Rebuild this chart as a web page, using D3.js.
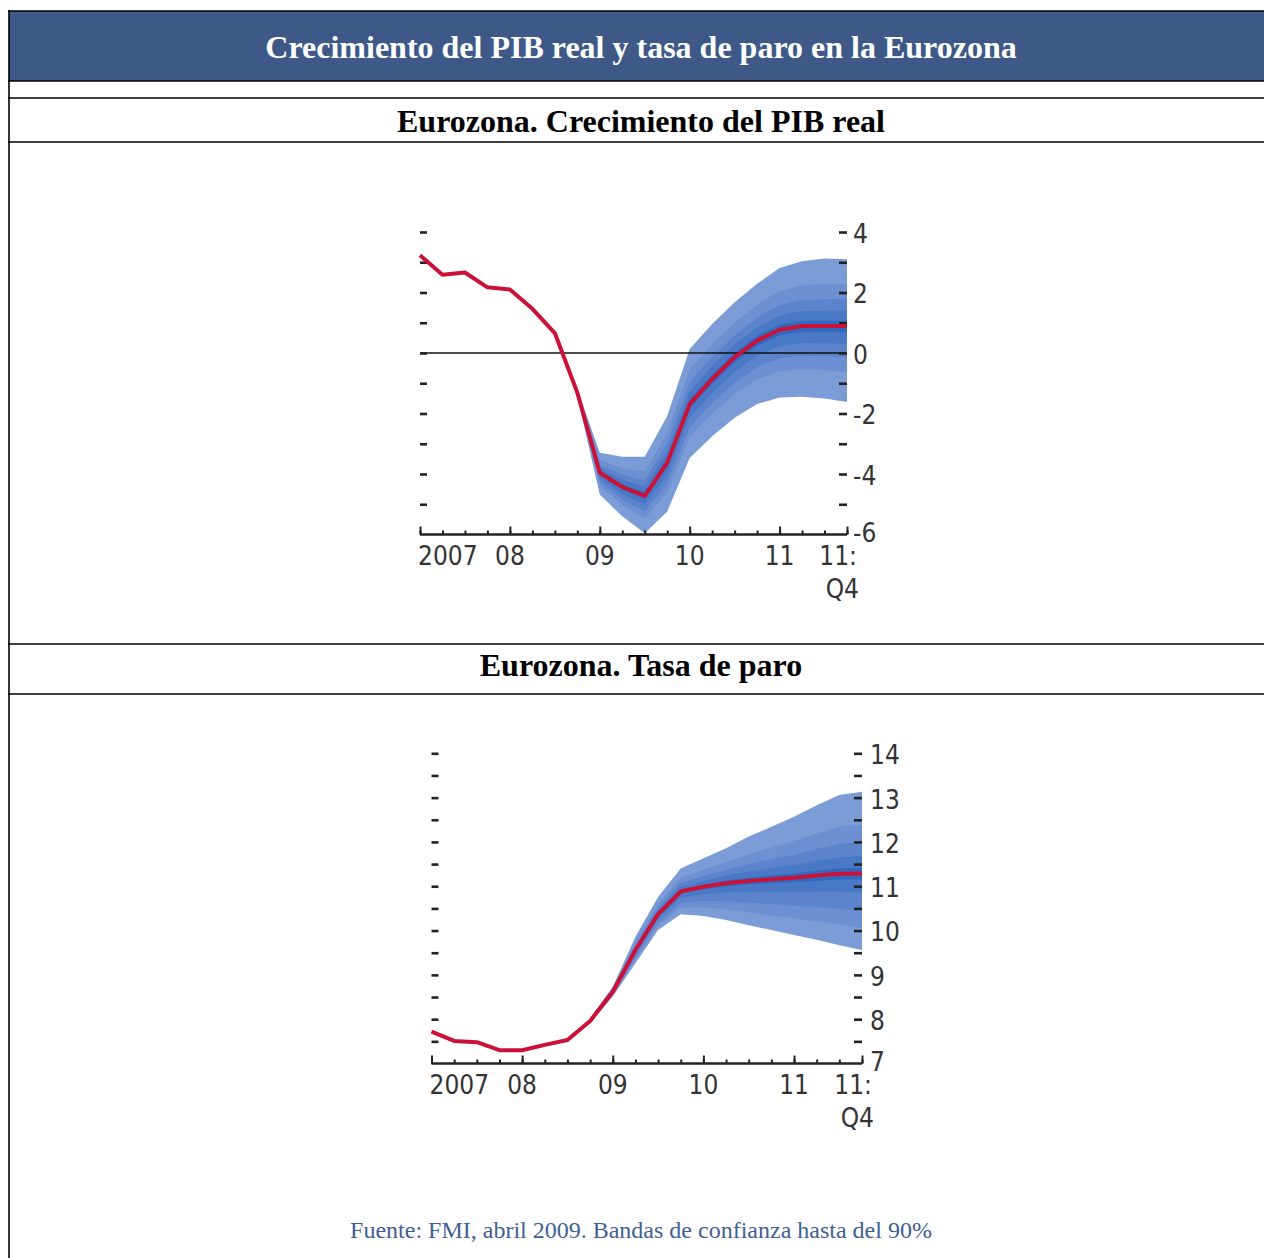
<!DOCTYPE html>
<html>
<head>
<meta charset="utf-8">
<script src="https://cdn.jsdelivr.net/npm/d3@7"></script>
<style>
  body { margin: 0; background: #fff; }
  svg { display: block; }
</style>
</head>
<body>
<svg id="page" width="1264" height="1258"></svg>
<script>
// quarters on the x axis, 2007Q1 .. 2011Q4
var quarters = ["2007Q1","2007Q2","2007Q3","2007Q4","2008Q1","2008Q2","2008Q3","2008Q4",
                "2009Q1","2009Q2","2009Q3","2009Q4","2010Q1","2010Q2","2010Q3","2010Q4",
                "2011Q1","2011Q2","2011Q3","2011Q4"];
var fanQuarters = quarters.slice(7);   // fan starts at 2008Q4
var yearTicks = ["2007Q1","2008Q1","2009Q1","2010Q1","2011Q1","2011Q4"];
var yearLabels = ["2007","08","09","10","11","11:"];

// ---- PIB real ----
var gdpLine = [3.23, 2.59, 2.66, 2.17, 2.10, 1.46, 0.66, -1.31, -3.96, -4.43, -4.72, -3.63,
               -1.69, -0.86, -0.14, 0.41, 0.77, 0.89, 0.89, 0.89];
var gdpUp1 = [-1.20, -3.30, -3.43, -3.43, -2.08, 0.13, 0.96, 1.68, 2.29, 2.81, 3.03, 3.12, 3.10];
var gdpUp2 = [-1.24, -3.54, -3.80, -3.91, -2.65, -0.54, 0.29, 1.01, 1.59, 2.06, 2.24, 2.29, 2.29];
var gdpUp3 = [-1.27, -3.70, -4.03, -4.20, -3.01, -0.96, -0.13, 0.59, 1.16, 1.59, 1.75, 1.78, 1.79];
var gdpUp4 = [-1.29, -3.81, -4.20, -4.42, -3.27, -1.27, -0.44, 0.28, 0.84, 1.24, 1.38, 1.40, 1.41];
var gdpUp5 = [-1.30, -3.91, -4.35, -4.62, -3.51, -1.54, -0.71, 0.01, 0.56, 0.93, 1.06, 1.07, 1.07];
var gdpLo5 = [-1.32, -4.02, -4.51, -4.82, -3.76, -1.83, -1.01, -0.30, 0.24, 0.59, 0.70, 0.70, 0.69];
var gdpLo4 = [-1.34, -4.13, -4.66, -5.02, -4.02, -2.12, -1.31, -0.62, -0.09, 0.23, 0.33, 0.32, 0.29];
var gdpLo3 = [-1.36, -4.26, -4.84, -5.24, -4.31, -2.44, -1.65, -0.98, -0.47, -0.17, -0.09, -0.11, -0.16];
var gdpLo2 = [-1.40, -4.40, -5.02, -5.48, -4.61, -2.78, -2.01, -1.36, -0.87, -0.60, -0.54, -0.57, -0.64];
var gdpLo1 = [-1.45, -4.68, -5.40, -5.96, -5.24, -3.47, -2.75, -2.14, -1.69, -1.47, -1.45, -1.50, -1.62];
var gdpTicks = [4, 3, 2, 1, 0, -1, -2, -3, -4, -5];
var gdpLabels = [4, 2, 0, -2, -4, -6];

// ---- Tasa de paro ----
var unempLine = [7.72, 7.51, 7.48, 7.30, 7.30, 7.42, 7.53, 7.96, 8.62, 9.56, 10.37, 10.88,
                 10.99, 11.07, 11.12, 11.16, 11.19, 11.24, 11.28, 11.29];
var unUp1 = [8.02, 8.73, 9.86, 10.76, 11.40, 11.63, 11.86, 12.12, 12.34, 12.57, 12.83, 13.06, 13.13];
var unUp2 = [8.00, 8.69, 9.74, 10.60, 11.19, 11.37, 11.54, 11.72, 11.87, 12.02, 12.19, 12.35, 12.39];
var unUp3 = [7.99, 8.66, 9.67, 10.52, 11.08, 11.23, 11.37, 11.50, 11.61, 11.71, 11.84, 11.96, 11.99];
var unUp4 = [7.98, 8.64, 9.62, 10.45, 10.99, 11.12, 11.24, 11.33, 11.41, 11.48, 11.57, 11.65, 11.68];
var unUp5 = [7.97, 8.63, 9.58, 10.40, 10.92, 11.03, 11.13, 11.19, 11.24, 11.29, 11.35, 11.40, 11.42];
var unLo5 = [7.95, 8.61, 9.54, 10.34, 10.84, 10.94, 11.00, 11.04, 11.07, 11.09, 11.12, 11.15, 11.15];
var unLo4 = [7.94, 8.59, 9.48, 10.28, 10.75, 10.82, 10.86, 10.87, 10.87, 10.87, 10.88, 10.88, 10.86];
var unLo3 = [7.93, 8.57, 9.41, 10.19, 10.63, 10.67, 10.66, 10.63, 10.60, 10.56, 10.53, 10.49, 10.44];
var unLo2 = [7.92, 8.54, 9.35, 10.11, 10.52, 10.52, 10.48, 10.41, 10.34, 10.27, 10.21, 10.14, 10.06];
var unLo1 = [7.90, 8.51, 9.26, 10.01, 10.37, 10.33, 10.24, 10.12, 10.01, 9.90, 9.79, 9.67, 9.56];
var unTicks = [14, 13.5, 13, 12.5, 12, 11.5, 11, 10.5, 10, 9.5, 9, 8.5, 8, 7.5];
var unLabels = [14, 13, 12, 11, 10, 9, 8, 7];

var fanColors = ["#7c9cd7", "#6c90d1", "#5b84cc", "#4878c6", "#3169bf"];
var lineColor = "#cc1137";
var tickFont = "'DejaVu Sans Condensed', 'Liberation Sans Narrow', sans-serif";
var serif = "'Liberation Serif', 'Times New Roman', serif";

var svg = d3.select("#page");

// ---- table frame ----
svg.append("rect").attr("x", 9).attr("y", 11).attr("width", 1255).attr("height", 70)
  .style("fill", "#3e5987");

[11, 81, 98, 142, 644, 694].forEach(function(y) {
  svg.append("line").attr("x1", 8).attr("x2", 1264).attr("y1", y).attr("y2", y)
    .style("stroke", "#000").style("stroke-width", 1.6);
});
svg.append("line").attr("x1", 9).attr("x2", 9).attr("y1", 10).attr("y2", 1258)
  .style("stroke", "#000").style("stroke-width", 1.6);

svg.append("text").attr("x", 641).attr("y", 58).attr("text-anchor", "middle")
  .style("font-family", serif).style("font-weight", "bold").style("font-size", "32px")
  .style("fill", "#fff")
  .text("Crecimiento del PIB real y tasa de paro en la Eurozona");

svg.append("text").attr("x", 641).attr("y", 132).attr("text-anchor", "middle")
  .style("font-family", serif).style("font-weight", "bold").style("font-size", "32px")
  .style("fill", "#000")
  .text("Eurozona. Crecimiento del PIB real");

svg.append("text").attr("x", 641).attr("y", 676).attr("text-anchor", "middle")
  .style("font-family", serif).style("font-weight", "bold").style("font-size", "32px")
  .style("fill", "#000")
  .text("Eurozona. Tasa de paro");

svg.append("text").attr("x", 641).attr("y", 1238).attr("text-anchor", "middle")
  .style("font-family", serif).style("font-size", "24px")
  .style("fill", "#3f5f94")
  .text("Fuente: FMI, abril 2009. Bandas de confianza hasta del 90%");

// ---- charts ----
drawFanChart({
  x0: 420, x1: 847, yDomain: [-6, 4], yRange: [534.5, 232],
  line: gdpLine,
  ups: [gdpUp1, gdpUp2, gdpUp3, gdpUp4, gdpUp5],
  los: [gdpLo1, gdpLo2, gdpLo3, gdpLo4, gdpLo5],
  ticks: gdpTicks, labels: gdpLabels, zeroLine: true, labelPad: 6
});

drawFanChart({
  x0: 431.5, x1: 862, yDomain: [7, 14], yRange: [1063.5, 753.3],
  line: unempLine,
  ups: [unUp1, unUp2, unUp3, unUp4, unUp5],
  los: [unLo1, unLo2, unLo3, unLo4, unLo5],
  ticks: unTicks, labels: unLabels, zeroLine: false, labelPad: 8
});

function drawFanChart(c) {
  var g = svg.append("g");

  var x = d3.scalePoint().domain(quarters).range([c.x0, c.x1]);
  var y = d3.scaleLinear().domain(c.yDomain).range(c.yRange);
  var yBase = y(c.yDomain[0]);

  // fan bands, outer (light) to inner (dark)
  for (var k = 0; k < c.ups.length; k++) {
    var up = c.ups[k], lo = c.los[k];
    g.append("path")
      .datum(fanQuarters.map(function(q, i) { return { q: q, hi: up[i], lo: lo[i] }; }))
      .attr("d", d3.area()
        .x(function(d) { return x(d.q); })
        .y0(function(d) { return y(d.lo); })
        .y1(function(d) { return y(d.hi); }))
      .style("fill", fanColors[k]);
  }

  if (c.zeroLine) {
    g.append("line")
      .attr("x1", c.x0).attr("x2", c.x1).attr("y1", y(0)).attr("y2", y(0))
      .style("stroke", "#111").style("stroke-width", 1.3);
  }

  // left dashes
  g.append("g")
    .attr("transform", "translate(" + c.x0 + ",0)")
    .call(d3.axisLeft(y).tickValues(c.ticks).tickSize(-7).tickFormat(""))
    .call(function(a) { a.select(".domain").remove(); })
    .selectAll("line").style("stroke", "#222").style("stroke-width", 2.6);

  // right dashes
  g.append("g")
    .attr("transform", "translate(" + c.x1 + ",0)")
    .call(d3.axisRight(y).tickValues(c.ticks).tickSize(-8).tickFormat(""))
    .call(function(a) { a.select(".domain").remove(); })
    .selectAll("line").style("stroke", "#222").style("stroke-width", 2.6);

  // right labels (the bottom one sits a little higher, as in the original)
  g.append("g")
    .attr("transform", "translate(" + c.x1 + ",0)")
    .call(d3.axisRight(y).tickValues(c.labels).tickSize(0).tickPadding(c.labelPad)
      .tickFormat(function(d) { return String(d); }))
    .call(function(a) { a.select(".domain").remove(); })
    .selectAll("text")
      .attr("dy", function(d) { return d === c.yDomain[0] ? "0.25em" : "0.4em"; })
      .style("font-family", tickFont).style("font-size", "26px").style("fill", "#333");

  // bottom axis: minor and major ticks pointing up
  g.append("g")
    .attr("transform", "translate(0," + yBase + ")")
    .call(d3.axisBottom(x).tickSize(-4).tickFormat(""))
    .call(function(a) { a.select(".domain").remove(); })
    .selectAll("line").style("stroke", "#222").style("stroke-width", 2);

  g.append("g")
    .attr("transform", "translate(0," + yBase + ")")
    .call(d3.axisBottom(x).tickValues(yearTicks).tickSize(-8).tickFormat(""))
    .call(function(a) { a.select(".domain").remove(); })
    .selectAll("line").style("stroke", "#222").style("stroke-width", 2);

  g.append("line")
    .attr("x1", c.x0).attr("x2", c.x1).attr("y1", yBase).attr("y2", yBase)
    .style("stroke", "#222").style("stroke-width", 2.6);

  // year labels
  g.selectAll(".xlab")
    .data(yearTicks)
    .enter().append("text")
      .attr("class", "xlab")
      .attr("x", function(d, i) { return i === 0 ? x(d) - 2 : (i === yearTicks.length - 1 ? x(d) + 10 : x(d)); })
      .attr("y", yBase + 30)
      .attr("text-anchor", function(d, i) { return i === 0 ? "start" : (i === yearTicks.length - 1 ? "end" : "middle"); })
      .style("font-family", tickFont).style("font-size", "26px").style("fill", "#333")
      .text(function(d, i) { return yearLabels[i]; });

  g.append("text")
    .attr("x", x(quarters[quarters.length - 1]) + 12)
    .attr("y", yBase + 63)
    .attr("text-anchor", "end")
    .style("font-family", tickFont).style("font-size", "26px").style("fill", "#333")
    .text("Q4");

  // central projection
  g.append("path")
    .datum(c.line)
    .attr("d", d3.line()
      .x(function(d, i) { return x(quarters[i]); })
      .y(function(d) { return y(d); }))
    .style("fill", "none")
    .style("stroke", lineColor)
    .style("stroke-width", 4)
    .style("stroke-linejoin", "round");
}
</script>
</body>
</html>
